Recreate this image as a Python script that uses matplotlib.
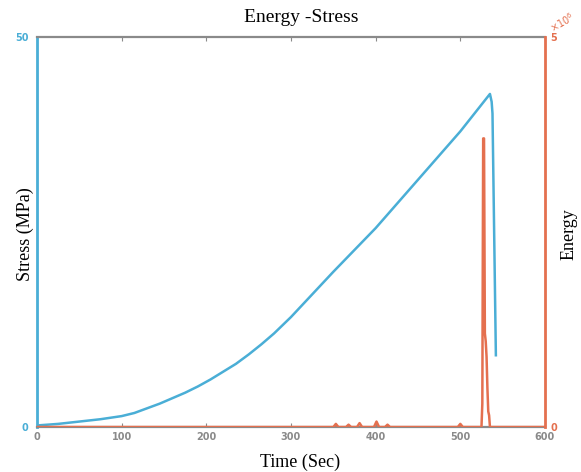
import matplotlib
matplotlib.use("Agg")
import matplotlib.pyplot as plt

# Stress curve (MPa) vs time (s)
stress_t = [0, 25, 50, 75, 100, 115, 130, 145, 160, 175, 190, 205, 220, 235,
            250, 265, 280, 300, 325, 350, 375, 400, 450, 500, 535, 537, 538,
            542]
stress_v = [0.2, 0.4, 0.7, 1.0, 1.4, 1.8, 2.4, 3.0, 3.7, 4.4, 5.2, 6.1, 7.1,
            8.1, 9.3, 10.6, 12.0, 14.1, 17.0, 19.9, 22.7, 25.5, 31.7, 37.9,
            42.7, 41.7, 40.2, 9.2]

# Energy (x10^6) vs time (s)
energy_t = [0, 350, 353, 356, 365, 368, 371, 378, 381, 384, 398, 401, 404,
            411, 414, 417, 497, 500, 503, 525, 526, 527, 528, 529, 530, 531,
            532, 533, 534, 535, 600]
energy_v = [0, 0, 0.04, 0, 0, 0.03, 0, 0, 0.05, 0, 0, 0.07, 0, 0, 0.03, 0,
            0, 0.04, 0, 0, 0.3, 3.7, 3.7, 1.2, 1.1, 0.9, 0.5, 0.2, 0.15, 0, 0]

blue = "#4aaed6"
red = "#e4704f"
grey = "#8a8a8a"

fig = plt.figure(figsize=(5.81, 4.72), dpi=100)
ax = fig.add_axes([0.0637, 0.0953, 0.8743, 0.8263])
ax2 = ax.twinx()

ax.plot(stress_t, stress_v, color=blue, lw=1.8)
ax2.plot(energy_t, energy_v, color=red, lw=1.8)

ax.set_xlim(0, 600)
ax.set_ylim(0, 50)
ax2.set_ylim(0, 5)

ax.set_xticks([0, 100, 200, 300, 400, 500, 600])
ax.set_yticks([0, 50])
ax2.set_yticks([0, 5])

ax.tick_params(axis="x", colors=grey, labelsize=7, direction="in", length=3,
               top=True)
ax.tick_params(axis="y", colors=blue, labelsize=7, direction="in", length=0,
               pad=6)
ax2.tick_params(axis="y", colors=red, labelsize=7, direction="in", length=0,
                pad=4)
for lab in ax.get_xticklabels() + ax.get_yticklabels() + ax2.get_yticklabels():
    lab.set_fontweight("bold")

for side in ["top", "bottom"]:
    ax.spines[side].set_color(grey)
    ax.spines[side].set_linewidth(1.6)
ax.spines["left"].set_color(blue)
ax.spines["left"].set_linewidth(2)
ax2.spines["left"].set_visible(False)
ax2.spines["right"].set_color(red)
ax2.spines["right"].set_linewidth(2)
ax.spines["right"].set_visible(False)
ax2.spines["top"].set_visible(False)
ax2.spines["bottom"].set_visible(False)

serif = ["Liberation Serif", "DejaVu Serif"]
fig.text(301 / 581, 1 - 18 / 472, "Energy -Stress", family=serif,
         fontsize=14, ha="center", va="center")
fig.text(300 / 581, 1 - 462 / 472, "Time (Sec)", family=serif,
         fontsize=13, ha="center", va="center")
fig.text(25 / 581, 1 - 234 / 472, "Stress (MPa)", family=serif,
         fontsize=13, ha="center", va="center", rotation=90)
fig.text(569 / 581, 1 - 234 / 472, "Energy", family=serif,
         fontsize=13, ha="center", va="center", rotation=90)

ax2.text(1.005, 1.005, r"$\times10^6$", transform=ax2.transAxes, color=red,
         fontsize=7, rotation=30, ha="left", va="bottom", fontweight="bold")

fig.savefig("out.png", dpi=100)
